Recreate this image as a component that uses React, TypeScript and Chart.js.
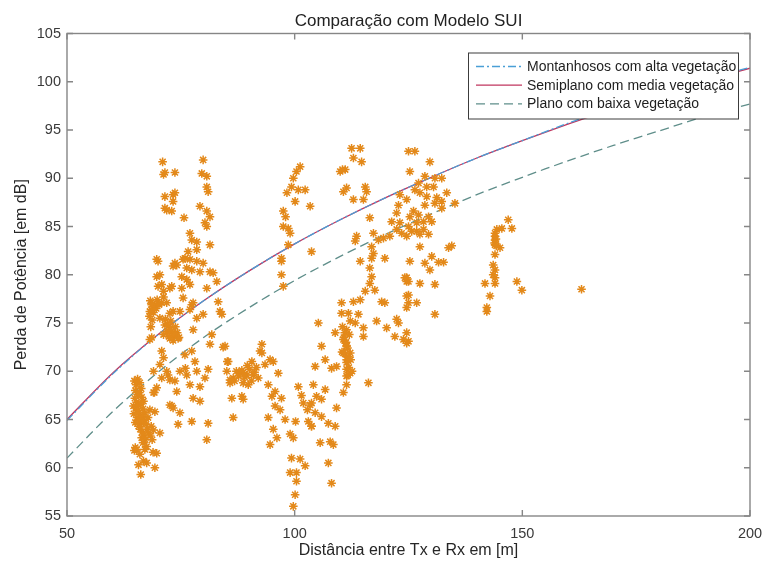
import React, { useEffect, useRef } from 'react';
import { Chart, registerables } from 'chart.js';

Chart.register(...registerables);

const FONT = '"Liberation Sans", Arial, Helvetica, sans-serif';

// SUI model curves (distance in m, path loss in dB)
const modelDistances = [50, 60, 70, 80, 90, 100, 110, 120, 130, 140, 150, 160, 170, 180, 190, 200];
const montanhososLoss = [64.9, 69.7, 73.8, 77.3, 80.4, 83.2, 85.7, 88.0, 90.1, 92.1, 93.9, 95.7, 97.3, 98.8, 100.2, 101.5];
const semiplanoLoss = [65.0, 69.8, 73.8, 77.3, 80.4, 83.2, 85.7, 88.0, 90.1, 92.1, 93.9, 95.6, 97.2, 98.7, 100.1, 101.4];
const planoLoss = [61.0, 65.8, 69.9, 73.5, 76.6, 79.4, 81.9, 84.2, 86.3, 88.3, 90.1, 91.8, 93.4, 94.9, 96.4, 97.7];

const seriesLabels = ['Montanhosos com alta vegetação', 'Semiplano com media vegetação', 'Plano com baixa vegetação'];

const xTickValues = [50, 100, 150, 200];
const yTickValues = [55, 60, 65, 70, 75, 80, 85, 90, 95, 100, 105];

// Measured points [distance, loss]
const clusterNear65 = [
  [64.8, 69.0], [65.2, 68.6], [65.0, 68.0], [65.5, 67.6], [64.9, 67.2], [65.3, 66.8], [65.8, 66.5], [65.1, 66.2],
  [65.6, 65.9], [66.0, 65.5], [65.4, 65.2], [65.9, 64.9], [66.3, 64.6], [65.7, 64.3], [66.1, 64.0], [66.5, 63.7],
  [66.9, 63.4], [66.4, 63.1], [67.2, 62.9], [66.7, 62.6], [65.5, 69.2], [66.0, 68.8], [66.3, 68.2], [65.9, 67.8],
  [66.4, 67.3], [66.8, 66.9], [66.2, 66.6], [66.7, 66.1], [67.1, 65.7], [66.6, 65.3], [67.0, 64.9], [67.4, 64.5],
  [67.6, 64.0], [67.9, 63.6], [68.3, 63.3], [64.7, 65.6], [64.6, 66.4], [65.0, 64.7], [67.8, 65.2], [68.5, 64.3],
  [69.0, 63.9], [68.7, 62.9], [67.5, 62.2], [65.0, 62.1], [66.0, 61.4], [68.9, 61.6], [66.8, 60.7], [65.7, 60.3],
  [69.3, 60.0], [67.5, 60.5], [66.2, 59.3], [64.8, 61.8], [65.3, 61.9], [69.7, 61.5], [67.1, 61.9], [68.2, 66.0],
  [70.4, 63.6], [69.2, 67.8],
];

const clusterUpperLeft = [
  [71.0, 91.7], [71.2, 90.4], [71.5, 90.6], [73.7, 90.6], [71.5, 88.1], [73.3, 88.3], [73.7, 88.5], [73.3, 87.6],
  [71.9, 86.7], [73.0, 86.6], [71.5, 86.9], [75.7, 85.9], [79.9, 91.9], [79.6, 90.5], [80.7, 90.2], [80.7, 89.1],
  [81.0, 88.6], [79.2, 87.1], [80.7, 86.6], [81.4, 86.0], [80.3, 85.4], [80.7, 85.0], [81.4, 83.1], [77.0, 84.3],
  [78.5, 83.4], [77.4, 83.6], [76.6, 82.4], [78.5, 82.6], [78.5, 81.4], [79.9, 81.2], [75.9, 81.7], [77.0, 81.6],
  [74.1, 81.0], [73.7, 81.2], [75.5, 81.6], [70.0, 81.4], [69.7, 81.6], [77.4, 80.5], [79.2, 80.3], [81.4, 80.3],
  [82.1, 80.2], [76.3, 80.7], [73.3, 80.9], [70.4, 80.0], [69.7, 79.8], [75.2, 79.8], [76.3, 79.5], [77.0, 79.0],
  [70.8, 79.0], [72.6, 78.6], [73.0, 78.8], [70.0, 78.8], [75.2, 78.6], [80.7, 78.6], [82.9, 79.3], [71.2, 78.3],
  [71.2, 77.7], [75.5, 77.6], [77.4, 76.9], [77.7, 77.1], [71.9, 77.1], [70.8, 77.1], [77.0, 76.4], [72.6, 76.0],
  [73.3, 76.2], [74.8, 76.2], [78.5, 75.5], [79.9, 75.9], [70.4, 75.5],
];

const clusterNearCurve = [
  [68.3, 77.3], [68.8, 77.0], [69.3, 76.8], [68.5, 76.4], [69.0, 76.1], [69.6, 76.5], [68.1, 75.7], [68.7, 75.3],
  [69.8, 77.4], [70.2, 76.9], [68.4, 74.6], [68.2, 73.3], [68.6, 73.5], [68.6, 76.9], [68.2, 76.2], [71.6, 75.4],
  [72.1, 74.9], [72.6, 74.5], [73.0, 74.1], [73.4, 73.7], [72.4, 73.6], [71.9, 74.1], [73.8, 74.6], [74.2, 74.0],
  [72.8, 75.2], [73.3, 73.2], [71.2, 73.8], [74.6, 73.5], [71.5, 74.8], [72.6, 74.3], [73.7, 73.8], [72.6, 73.4],
  [74.4, 73.4], [77.7, 74.3], [81.8, 73.8], [81.4, 72.8],
];

const clusterMid70 = [
  [70.8, 72.1], [71.2, 71.4], [75.9, 71.7], [77.4, 72.1], [78.1, 71.0], [70.4, 70.7], [69.0, 70.0], [71.9, 70.0],
  [74.8, 70.0], [76.3, 69.6], [78.5, 70.0], [81.0, 70.2], [72.6, 69.1], [73.7, 69.0], [70.8, 69.3], [69.7, 68.3],
  [77.0, 68.6], [79.2, 68.4], [80.3, 69.3], [69.0, 67.8], [74.1, 67.9], [77.7, 67.2], [79.2, 66.9], [72.6, 66.5],
  [73.3, 66.2], [74.8, 65.7], [69.3, 65.8], [77.4, 64.8], [81.0, 64.6], [74.4, 64.5], [80.7, 62.9], [72.2, 69.6],
  [73.0, 66.4], [76.0, 70.3],
];

const clusterMid88 = [
  [83.2, 77.2], [83.6, 76.2], [84.0, 75.9], [84.7, 72.6], [84.3, 72.5], [85.2, 71.0], [92.8, 72.8], [92.4, 72.1],
  [85.4, 71.0], [90.6, 71.0], [93.5, 70.7], [95.3, 71.0], [85.1, 70.0], [88.0, 69.8], [89.5, 69.6], [90.9, 69.6],
  [92.0, 69.3], [96.4, 69.8], [86.5, 69.3], [85.8, 68.8], [89.8, 68.6], [94.2, 68.6], [95.7, 67.9], [95.0, 67.4],
  [97.1, 67.2], [86.2, 67.2], [88.7, 67.1], [88.4, 67.4], [95.7, 66.4], [96.8, 66.0], [94.2, 65.2], [97.9, 65.0],
  [86.5, 65.2], [95.3, 64.0], [96.1, 63.1], [94.6, 62.4], [85.8, 69.1], [88.7, 69.9], [87.2, 70.0], [87.7, 69.5],
  [88.4, 70.1], [89.0, 69.4], [90.1, 70.2], [91.2, 69.9], [89.6, 70.6], [86.8, 69.0], [91.6, 70.4], [90.5, 69.0],
  [92.8, 71.9], [94.6, 71.2], [88.7, 68.8],
];

const clusterLow100 = [
  [100.8, 68.4], [104.1, 68.6], [101.9, 66.7], [103.4, 66.5], [99.0, 63.5], [99.7, 63.1], [103.0, 64.8], [103.7, 64.3],
  [99.3, 61.0], [101.2, 60.9], [102.3, 60.2], [99.0, 59.5], [100.4, 59.5], [100.4, 58.6], [100.1, 57.2], [99.7, 56.0],
  [100.2, 64.8], [101.5, 67.5], [102.8, 66.0],
];

const clusterTop100 = [
  [101.2, 91.2], [100.4, 90.7], [99.7, 90.0], [99.3, 89.1], [100.8, 88.8], [102.3, 88.8], [98.3, 88.5], [100.1, 87.6],
  [103.4, 87.1], [97.5, 86.6], [98.0, 86.0], [97.5, 85.0], [98.6, 84.8], [99.0, 84.3], [98.6, 83.1], [103.7, 82.4],
  [97.1, 81.4], [97.1, 80.0], [97.5, 78.8], [97.1, 81.7],
];

const clusterRise110 = [
  [112.5, 93.1], [114.4, 93.1], [112.9, 92.1], [114.7, 91.7], [110.0, 90.7], [111.1, 90.9], [111.4, 89.0], [110.7, 88.6],
  [115.5, 89.1], [115.8, 88.6], [112.9, 87.8], [115.1, 87.8], [110.5, 90.9], [123.1, 88.3], [122.8, 87.2], [122.4, 86.4],
  [121.3, 85.5], [123.1, 85.4], [122.4, 84.7], [123.5, 84.3], [120.9, 84.0], [119.5, 83.8], [118.4, 83.6], [116.5, 85.9],
  [117.3, 84.3], [113.6, 84.0], [113.3, 83.5], [116.9, 82.9], [117.3, 82.2], [116.9, 81.7], [114.4, 81.4], [119.8, 81.7],
  [116.5, 80.7], [116.9, 79.8], [116.5, 79.1], [117.6, 78.4], [115.5, 78.3], [124.2, 79.7], [124.6, 79.3], [124.6, 77.8],
  [110.3, 77.1], [112.9, 77.2], [114.4, 77.4], [119.1, 77.2], [110.3, 76.0], [111.8, 76.0], [114.0, 75.9], [112.2, 75.2],
  [113.3, 75.0], [118.0, 75.2], [105.2, 75.0], [122.8, 75.0], [115.1, 74.5], [111.4, 74.3], [120.2, 74.5], [108.9, 74.0],
  [115.1, 73.6], [122.0, 73.6], [123.9, 73.3], [124.6, 72.9], [110.7, 73.3], [111.4, 72.6], [105.9, 72.6], [110.7, 71.9],
  [112.2, 71.9], [106.7, 71.2], [111.4, 71.2], [108.1, 70.3], [104.5, 70.5], [109.2, 70.5], [111.4, 70.2], [112.2, 69.8],
  [111.4, 69.5], [116.2, 68.8], [111.4, 68.6], [106.7, 68.1], [110.7, 67.8], [104.8, 67.4], [105.9, 67.1], [103.7, 66.7],
  [109.2, 66.2], [104.5, 65.7], [105.9, 65.3], [107.4, 64.6], [103.7, 64.3], [108.9, 64.3], [107.8, 62.7], [105.6, 62.6],
  [108.5, 62.4], [107.4, 60.5], [108.1, 58.4], [110.5, 74.6], [111.0, 74.0], [110.8, 73.5], [111.3, 73.0], [111.6, 72.4],
  [111.1, 71.8], [111.8, 71.5], [111.4, 70.9], [111.9, 70.4], [112.3, 71.2], [111.2, 72.9], [112.0, 73.8], [110.4, 72.0],
  [111.7, 69.6], [112.6, 70.0],
];

const clusterUpper125 = [
  [125.0, 92.8], [126.4, 92.8], [129.7, 91.7], [125.3, 90.7], [128.6, 90.2], [130.8, 90.0], [132.3, 90.0], [127.2, 89.5],
  [129.0, 89.1], [130.5, 89.1], [126.4, 88.8], [127.5, 88.5], [133.4, 88.5], [129.0, 88.1], [131.2, 88.0], [124.6, 87.8],
  [130.8, 87.4], [132.3, 87.6], [135.2, 87.4], [128.6, 87.2], [132.3, 86.9], [126.1, 86.6], [127.2, 86.2], [125.3, 86.0],
  [129.4, 86.0], [130.1, 85.5], [128.3, 85.5], [126.8, 85.4], [125.0, 85.0], [125.7, 84.5], [126.8, 84.5], [128.3, 84.7],
  [129.4, 84.2], [124.6, 84.0], [127.5, 84.2], [127.5, 82.9], [133.8, 82.8], [134.5, 83.0], [130.1, 81.9], [125.3, 81.4],
  [128.6, 81.2], [131.6, 81.3], [132.7, 81.3], [129.7, 80.5], [124.6, 79.7], [125.0, 79.3], [127.5, 79.1], [130.8, 79.0],
  [125.0, 77.9], [125.0, 77.1], [126.8, 77.1], [124.6, 76.6], [130.8, 75.9], [124.6, 74.0], [125.0, 73.1], [122.4, 75.4],
  [119.8, 77.1],
];

const clusterRight144 = [
  [145.5, 84.8], [144.4, 84.7], [144.0, 83.6], [144.0, 83.1], [145.1, 82.8], [144.0, 82.1], [143.6, 81.0], [144.0, 80.5],
  [143.6, 80.0], [141.8, 79.1], [144.0, 79.1], [142.9, 77.8], [142.2, 76.2], [146.9, 85.7], [147.7, 84.8], [144.0, 84.3],
  [144.0, 84.0], [144.2, 83.7], [143.9, 83.3], [144.3, 83.0], [144.0, 79.7], [148.8, 79.3], [149.9, 78.4], [142.2, 76.6],
  [163.0, 78.5],
];

const measuredClusters = [
  clusterNear65, clusterUpperLeft, clusterNearCurve, clusterMid70, clusterMid88,
  clusterLow100, clusterTop100, clusterRise110, clusterUpper125, clusterRight144,
];

const COLORS = {
  montanhosos: '#4a9fd6',
  semiplano: '#c0365f',
  plano: '#5f8e8a',
  scatter: '#e3891a',
  axis: '#868686',
};

const DASHES = {
  montanhosos: [8, 3, 2, 3],
  semiplano: [],
  plano: [9, 5],
};

const boxPlugin = {
  id: 'matlabBox',
  afterDatasetsDraw(chart: any) {
    const { ctx, chartArea } = chart;
    const { left, right, top, bottom } = chartArea;
    const xs = chart.scales.x;
    const ys = chart.scales.y;
    ctx.save();
    ctx.strokeStyle = COLORS.axis;
    ctx.lineWidth = 1.4;
    ctx.setLineDash([]);
    ctx.strokeRect(left, top, right - left, bottom - top);
    const tl = 6;
    ctx.beginPath();
    xs.ticks.forEach((t: any) => {
      const px = xs.getPixelForValue(t.value);
      ctx.moveTo(px, bottom);
      ctx.lineTo(px, bottom - tl);
      ctx.moveTo(px, top);
      ctx.lineTo(px, top + tl);
    });
    ys.ticks.forEach((t: any) => {
      const py = ys.getPixelForValue(t.value);
      ctx.moveTo(left, py);
      ctx.lineTo(left + tl, py);
      ctx.moveTo(right, py);
      ctx.lineTo(right - tl, py);
    });
    ctx.stroke();
    ctx.restore();
  },
};

const legendPlugin = {
  id: 'matlabLegend',
  afterDraw(chart: any) {
    const { ctx, chartArea } = chart;
    const boxW = 270;
    const boxH = 66;
    const bx = chartArea.right - 12 - boxW;
    const by = chartArea.top + 19;
    ctx.save();
    ctx.fillStyle = '#ffffff';
    ctx.fillRect(bx, by, boxW, boxH);
    ctx.strokeStyle = '#3c3c3c';
    ctx.lineWidth = 1;
    ctx.setLineDash([]);
    ctx.strokeRect(bx + 0.5, by + 0.5, boxW, boxH);
    const lineDatasets = chart.data.datasets.filter((d: any) => d.inLegend);
    ctx.font = `14px ${FONT}`;
    ctx.textBaseline = 'middle';
    ctx.textAlign = 'left';
    lineDatasets.forEach((d: any, i: number) => {
      const y = by + 14 + i * 18.7;
      ctx.strokeStyle = d.borderColor;
      ctx.lineWidth = 1.3;
      ctx.setLineDash(d.borderDash || []);
      ctx.beginPath();
      ctx.moveTo(bx + 8, y);
      ctx.lineTo(bx + 54, y);
      ctx.stroke();
      ctx.setLineDash([]);
      ctx.fillStyle = '#1e1e1e';
      ctx.fillText(d.label, bx + 59, y + 0.5);
    });
    ctx.restore();
  },
};

export default function App() {
  const canvasRef = useRef<HTMLCanvasElement | null>(null);

  useEffect(() => {
    if (!canvasRef.current) return;
    const toXY = (xs: number[], ys: number[]) => xs.map((x, i) => ({ x, y: ys[i] }));
    const scatterData = measuredClusters.flat().map(([x, y]) => ({ x, y }));

    const lineBase = {
      type: 'scatter' as const,
      showLine: true,
      pointRadius: 0,
      pointHoverRadius: 0,
      borderWidth: 1.3,
      fill: false,
      tension: 0.3,
      inLegend: true,
    };

    const chart = new Chart(canvasRef.current, {
      type: 'scatter',
      data: {
        datasets: [
          {
            label: 'Medições',
            data: scatterData,
            pointStyle: 'star',
            pointRadius: 4.3,
            borderColor: COLORS.scatter,
            backgroundColor: COLORS.scatter,
            pointBorderWidth: 1.5,
            borderWidth: 1.5,
            showLine: false,
            order: 0,
          },
          {
            ...lineBase,
            label: seriesLabels[0],
            data: toXY(modelDistances, montanhososLoss),
            borderColor: COLORS.montanhosos,
            borderDash: DASHES.montanhosos,
            order: 1,
          },
          {
            ...lineBase,
            label: seriesLabels[1],
            data: toXY(modelDistances, semiplanoLoss),
            borderColor: COLORS.semiplano,
            borderDash: DASHES.semiplano,
            order: 2,
          },
          {
            ...lineBase,
            label: seriesLabels[2],
            data: toXY(modelDistances, planoLoss),
            borderColor: COLORS.plano,
            borderDash: DASHES.plano,
            order: 3,
          },
        ] as any,
      },
      options: {
        animation: false,
        responsive: false,
        maintainAspectRatio: false,
        events: [],
        layout: { padding: { left: 0, right: 12, top: 0, bottom: 0 } },
        plugins: {
          legend: { display: false },
          tooltip: { enabled: false },
          title: {
            display: true,
            fullSize: false,
            text: 'Comparação com Modelo SUI',
            color: '#222222',
            font: { family: FONT, size: 17, weight: 'normal' },
            padding: { top: 11.5, bottom: 1.6 },
          },
        },
        scales: {
          x: {
            type: 'linear',
            min: 50,
            max: 200,
            afterBuildTicks: (scale: any) => {
              scale.ticks = xTickValues.map((v) => ({ value: v }));
            },
            afterFit: (scale: any) => {
              scale.height = 51;
              scale.paddingLeft = 0;
              scale.paddingRight = 0;
            },
            grid: { display: false, drawTicks: false },
            border: { display: false },
            ticks: {
              color: '#3a3a3a',
              font: { family: FONT, size: 14.5 },
              padding: 9,
              maxRotation: 0,
              autoSkip: false,
            },
            title: {
              display: true,
              text: 'Distância entre Tx e Rx em [m]',
              color: '#262626',
              font: { family: FONT, size: 16 },
              padding: { top: 0, bottom: 6.4 },
            },
          },
          y: {
            type: 'linear',
            min: 55,
            max: 105,
            afterBuildTicks: (scale: any) => {
              scale.ticks = yTickValues.map((v) => ({ value: v }));
            },
            afterFit: (scale: any) => {
              scale.width = 67;
              scale.paddingTop = 0;
              scale.paddingBottom = 0;
            },
            grid: { display: false, drawTicks: false },
            border: { display: false },
            ticks: {
              color: '#3a3a3a',
              font: { family: FONT, size: 14.5 },
              padding: 6,
              autoSkip: false,
            },
            title: {
              display: true,
              text: 'Perda de Potência [em dB]',
              color: '#262626',
              font: { family: FONT, size: 16 },
              padding: { top: 12.4, bottom: 0 },
            },
          },
        },
      } as any,
      plugins: [boxPlugin, legendPlugin],
    });

    return () => chart.destroy();
  }, []);

  return (
    <div style={{ position: 'fixed', left: 0, top: 0, width: 762, height: 567, background: '#ffffff' }}>
      <canvas ref={canvasRef} width={762} height={567} style={{ display: 'block' }} />
    </div>
  );
}
